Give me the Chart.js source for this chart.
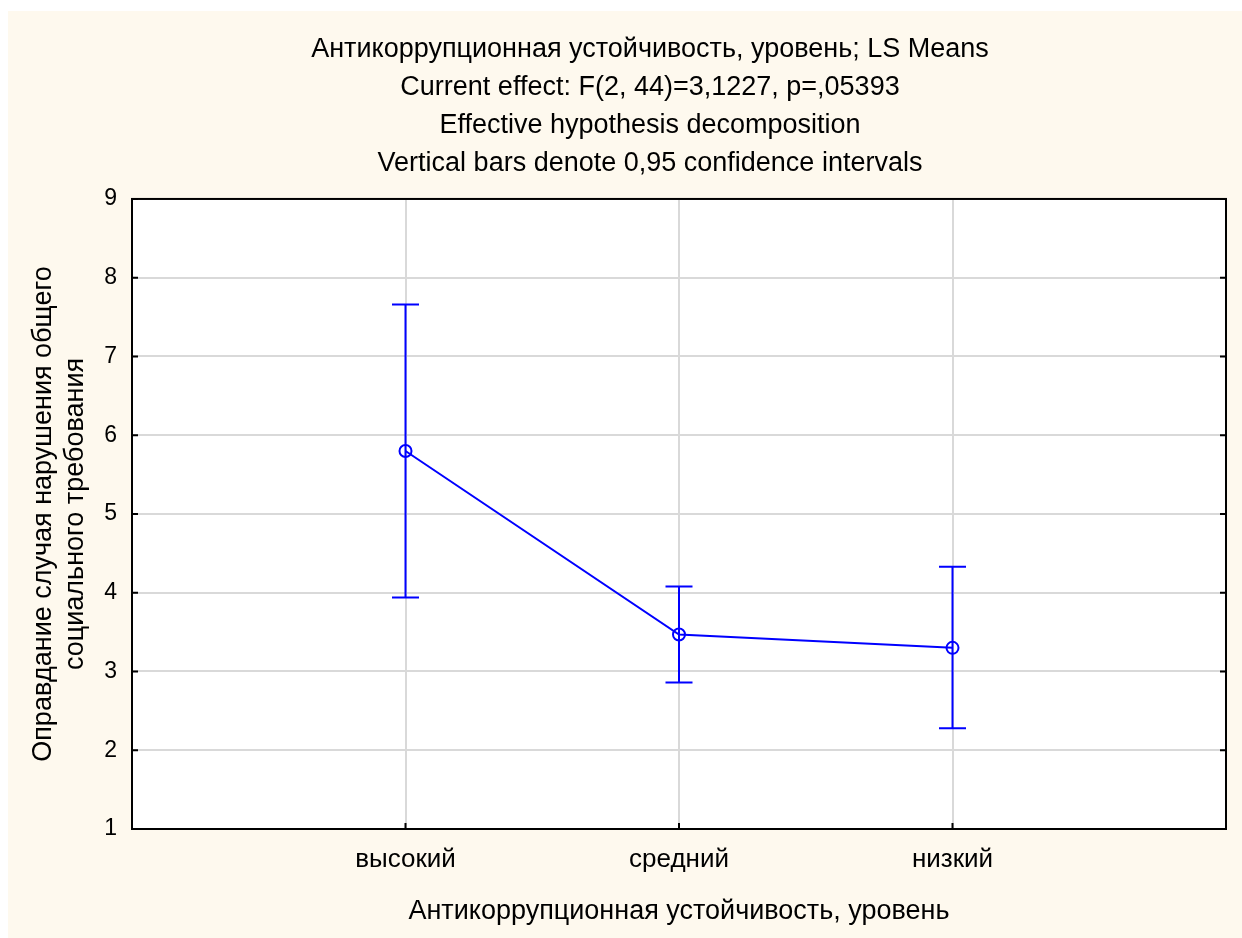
<!DOCTYPE html>
<html>
<head>
<meta charset="utf-8">
<script src="https://cdn.jsdelivr.net/npm/chart.js@4.4.1/dist/chart.umd.min.js"></script>
<style>
  html, body { margin: 0; padding: 0; background: #ffffff; }
  #wrap { width: 1242px; height: 938px; position: relative; }
</style>
</head>
<body>
<div id="wrap"><canvas id="c" width="1242" height="938"></canvas></div>
<script>
const categories = ["высокий", "средний", "низкий"];
const categoryPositions = [1, 2, 3];
const means = [5.80, 3.47, 3.30];
const lowerCI = [3.94, 2.86, 2.28];
const upperCI = [7.66, 4.08, 4.33];
const yTicks = [1, 2, 3, 4, 5, 6, 7, 8, 9];
const titleLines = [
  "Антикоррупционная устойчивость, уровень; LS Means",
  "Current effect: F(2, 44)=3,1227, p=,05393",
  "Effective hypothesis decomposition",
  "Vertical bars denote 0,95 confidence intervals"
];
const xTitle = "Антикоррупционная устойчивость, уровень";
const yTitle = ["Оправдание случая нарушения общего", "социального требования"];

const FONT = "'Liberation Sans', Arial, sans-serif";
const BLUE = "#0000ff";
const LEFT_PAD = 74;

const bgPlugin = {
  id: "bg",
  beforeDraw(chart) {
    const ctx = chart.ctx;
    const a = chart.chartArea;
    ctx.save();
    ctx.fillStyle = "#ffffff";
    ctx.fillRect(0, 0, chart.width, chart.height);
    ctx.fillStyle = "#fef9ee";
    ctx.fillRect(8, 11, chart.width - 8, chart.height - 11);
    ctx.fillStyle = "#ffffff";
    ctx.fillRect(a.left, a.top, a.right - a.left, a.bottom - a.top);
    ctx.restore();
  }
};

const framePlugin = {
  id: "frame",
  afterDatasetsDraw(chart) {
    const ctx = chart.ctx;
    const a = chart.chartArea;
    const xs = chart.scales.x, ys = chart.scales.y;
    ctx.save();
    ctx.strokeStyle = BLUE;
    ctx.lineWidth = 2;
    categoryPositions.forEach((p, i) => {
      const px = xs.getPixelForValue(p);
      const lo = ys.getPixelForValue(lowerCI[i]);
      const hi = ys.getPixelForValue(upperCI[i]);
      ctx.beginPath();
      ctx.moveTo(px, lo); ctx.lineTo(px, hi);
      ctx.moveTo(px - 13.5, lo); ctx.lineTo(px + 13.5, lo);
      ctx.moveTo(px - 13.5, hi); ctx.lineTo(px + 13.5, hi);
      ctx.stroke();
    });
    ctx.strokeStyle = "#000000";
    ctx.lineWidth = 2;
    ctx.strokeRect(a.left, a.top, a.right - a.left, a.bottom - a.top);
    ctx.beginPath();
    yTicks.forEach(v => {
      const py = ys.getPixelForValue(v);
      ctx.moveTo(a.left, py); ctx.lineTo(a.left + 6, py);
      ctx.moveTo(a.right, py); ctx.lineTo(a.right - 6, py);
    });
    categoryPositions.forEach(p => {
      const px = xs.getPixelForValue(p);
      ctx.moveTo(px, a.bottom); ctx.lineTo(px, a.bottom - 6);
    });
    ctx.stroke();
    ctx.restore();
  }
};

new Chart(document.getElementById("c"), {
  type: "line",
  data: {
    datasets: [{
      data: categoryPositions.map((p, i) => ({ x: p, y: means[i] })),
      borderColor: BLUE,
      borderWidth: 2,
      pointRadius: 6,
      pointBorderWidth: 2,
      pointBorderColor: BLUE,
      pointBackgroundColor: "rgba(0,0,0,0)",
      pointHoverRadius: 6,
      tension: 0,
      fill: false
    }]
  },
  options: {
    responsive: false,
    animation: false,
    events: [],
    layout: { padding: { left: LEFT_PAD, right: 16, top: 0, bottom: 0 } },
    plugins: {
      legend: { display: false },
      tooltip: { enabled: false },
      title: {
        display: true,
        text: titleLines,
        color: "#000000",
        font: { family: FONT, size: 27, weight: "normal", lineHeight: 1.407 },
        padding: { top: 31, bottom: 16 }
      }
    },
    scales: {
      x: {
        type: "linear",
        min: 0, max: 4,
        afterBuildTicks: s => { s.ticks = categoryPositions.map(v => ({ value: v })); },
        afterFit: s => { s.height = 109; },
        ticks: {
          callback: (v) => categories[categoryPositions.indexOf(v)] || "",
          color: "#000000",
          font: { family: FONT, size: 26 },
          padding: 15,
          maxRotation: 0,
          autoSkip: false
        },
        grid: { color: "#d9d9d9", lineWidth: 2, drawTicks: false },
        border: { display: false },
        title: {
          display: true,
          text: xTitle,
          color: "#000000",
          font: { family: FONT, size: 27 },
          padding: { top: 0, bottom: 10 }
        }
      },
      y: {
        min: 1, max: 9,
        afterBuildTicks: s => { s.ticks = yTicks.map(v => ({ value: v })); },
        afterFit: s => { s.width = 132 - LEFT_PAD; },
        ticks: {
          color: "#000000",
          font: { family: FONT, size: 23 },
          padding: 15
        },
        grid: { color: "#d9d9d9", lineWidth: 2, drawTicks: false },
        border: { display: false },
        title: {
          display: true,
          text: yTitle,
          color: "#000000",
          font: { family: FONT, size: 27, lineHeight: 1.19 },
          padding: { top: 27 - LEFT_PAD, bottom: 4 }
        }
      }
    }
  },
  plugins: [bgPlugin, framePlugin]
});
</script>
</body>
</html>
